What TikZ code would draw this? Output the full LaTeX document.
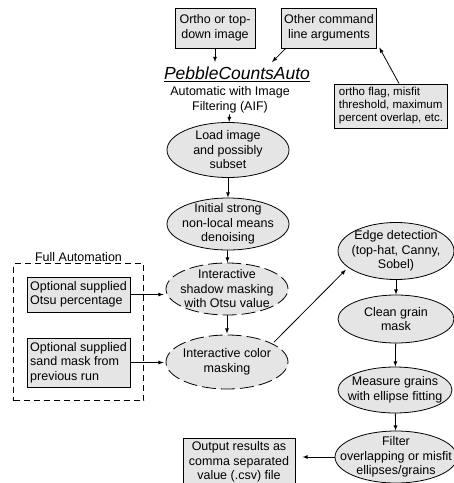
\documentclass[tikz,border=0pt]{standalone}
\usepackage{fontspec}
\setmainfont{Liberation Sans}
\usetikzlibrary{shapes,arrows}
\usetikzlibrary{fit}
\definecolor{boxgray}{gray}{0.9}
\tikzstyle{every node}=[font=\fontsize{12.5}{14.5}\selectfont]
\tikzstyle{every path}=[line width=0.8pt]
\tikzstyle{inbox}=[draw, line width=1pt, fill=boxgray, inner sep=3pt, align=center]
\tikzstyle{proc}=[ellipse, draw, fill=boxgray, inner sep=0pt]
\tikzstyle{dproc}=[proc, dash pattern=on 14pt off 5pt]
\tikzstyle{ptext}=[align=center, inner sep=0pt]

\begin{document}
\begin{tikzpicture}[x=1pt,y=-1pt]
\useasboundingbox (0,0) rectangle (454,483);

% inputs
\node[inbox, minimum width=80pt, minimum height=40pt] (ortho) at (215,28) {Ortho or top-\\down image};
\node[inbox, minimum width=92pt, minimum height=40pt] (other) at (329,28) {Other command\\line arguments};
\node[inbox, align=left, font=\fontsize{11.5}{13}\selectfont, minimum width=113pt, minimum height=44pt] (opt) at (391,106) {ortho flag, misfit\\threshold, maximum\\percent overlap, etc.};

\node[inner sep=1pt] (title) at (237,74) {\fontsize{17.5}{20}\selectfont\underline{\textit{PebbleCountsAuto}}};
\node[align=center, inner sep=1pt] (aif) at (230,100) {Automatic with Image\\Filtering (AIF)};
\coordinate (titlein) at (272,62);

\draw[-latex] (ortho) -- (ortho |- titlein);
\draw[-latex] ([xshift=5pt]other.south west) -- (titlein);
\draw[-latex] ([xshift=8pt]opt.north) -- ([xshift=2pt,yshift=1pt]other.south east);

% main column
\node[proc, minimum width=122pt, minimum height=55pt, label={[ptext]center:{Load image\\and possibly\\subset}}] (load) at (228,150) {};
\node[proc, minimum width=122pt, minimum height=52pt, label={[ptext]center:{Initial strong\\non-local means\\denoising}}] (init) at (228,224) {};
\node[dproc, minimum width=122pt, minimum height=52pt, label={[ptext]center:{Interactive\\shadow masking\\with Otsu value}}] (shadow) at (227,289) {};
\node[dproc, minimum width=122pt, minimum height=54pt, label={[ptext]center:{Interactive color\\masking}}] (color) at (227,362) {};

\draw[-latex] (aif) -- (load);
\draw[-latex] (load) -- (init);
\draw[-latex] (init) -- (shadow);
\draw[-latex, shorten >=1pt] (shadow) -- (color);

% full automation
\node[inbox, align=left, minimum width=103pt, minimum height=35pt] (otsu) at (78.5,294.5) {Optional supplied\\Otsu percentage};
\node[inbox, align=left, minimum width=103pt, minimum height=49pt] (sand) at (78.5,362.5) {Optional supplied\\sand mask from\\previous run};
\node[draw, dash pattern=on 6pt off 4pt, fit=(otsu)(sand), inner xsep=13pt, inner ysep=13pt, label={[inner sep=1pt]above:Full Automation}] (auto) {};

\draw[-latex, shorten >=2pt] (otsu.east) -- (otsu.east -| shadow.west);
\draw[-latex, shorten >=2pt] (sand.east) -- (sand.east -| color.west);

% right column
\node[proc, minimum width=116pt, minimum height=57pt, label={[ptext]center:{Edge detection\\(top-hat, Canny,\\Sobel)}}] (edge) at (396,251) {};
\node[proc, minimum width=116pt, minimum height=48pt, label={[ptext]center:{Clean grain\\mask}}] (clean) at (396,319) {};
\node[proc, minimum width=114pt, minimum height=46pt, label={[ptext]center:{Measure grains\\with ellipse fitting}}] (measure) at (395,390) {};
\node[proc, minimum width=122pt, minimum height=52pt, label={[ptext]center:{Filter\\overlapping or misfit\\ellipses/grains}}] (filter) at (396,457) {};
\node[inbox, minimum width=112pt, minimum height=40pt] (output) at (239,462) {Output results as\\comma separated\\value (.csv) file};

\draw[-latex, shorten <=2pt, shorten >=3pt] (color.22) -- (edge.199);
\draw[-latex] (edge) -- (clean);
\draw[-latex] (clean) -- (measure);
\draw[-latex] (measure) -- (filter);
\draw[-latex, shorten >=7pt] (filter.west) -- (output.east |- filter.west);
\end{tikzpicture}
\end{document}
